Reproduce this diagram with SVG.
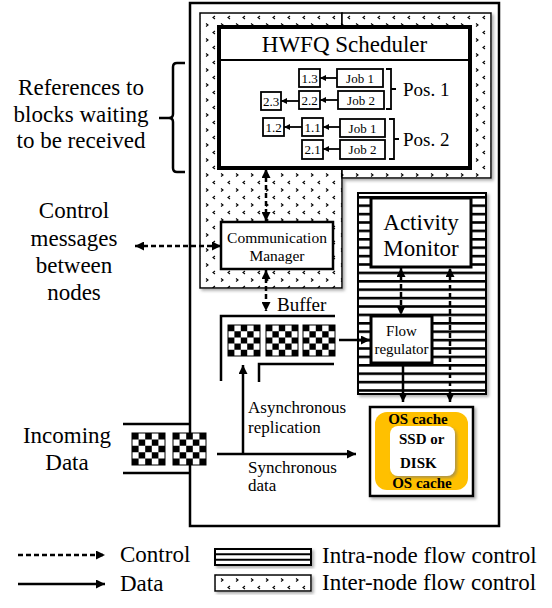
<svg xmlns="http://www.w3.org/2000/svg" width="552" height="608" viewBox="0 0 552 608" font-family="'Liberation Serif', 'Times New Roman', serif">
<style>
text{font-family:"Liberation Serif","Times New Roman",serif;fill:#000}
.big{font-size:23px}
.mid{font-size:17px}
.sm{font-size:13px}
.bold{font-weight:bold;font-size:15px}
.box{fill:#fff;stroke:#000}
.solid{stroke:#000;stroke-width:2.5;fill:none}
.dash{stroke:#000;stroke-width:2.5;fill:none;stroke-dasharray:5 3}
.thin{stroke:#000;stroke-width:1.8;fill:none}
.mid-t{text-anchor:middle}
.chk{stroke:#000;stroke-width:1}
</style>
<defs>
<pattern id="dots" patternUnits="userSpaceOnUse" x="0" y="0" width="15" height="15">
<rect width="15" height="15" fill="#fff"/>
<path d="M5,1 L3,2.5 L5,4 M11,8.5 L13,10 L11,11.5" stroke="#000" stroke-width="1.1" fill="none"/>
</pattern>
<pattern id="stripes" patternUnits="userSpaceOnUse" x="0" y="196" width="10" height="8.4">
<rect width="10" height="8.4" fill="#fff"/>
<rect y="0" width="10" height="2.6" fill="#000"/>
</pattern>
<symbol id="checker" viewBox="0 0 5 5" preserveAspectRatio="none">
<rect width="5" height="5" fill="#fff"/>
<path fill="#000" d="M0,0h1v1h-1z M2,0h1v1h-1z M4,0h1v1h-1z M1,1h1v1h-1z M3,1h1v1h-1z M0,2h1v1h-1z M2,2h1v1h-1z M4,2h1v1h-1z M1,3h1v1h-1z M3,3h1v1h-1z M0,4h1v1h-1z M2,4h1v1h-1z M4,4h1v1h-1z"/>
</symbol>
<filter id="sh" x="-10%" y="-10%" width="130%" height="130%">
<feDropShadow dx="2" dy="2" stdDeviation="1.5" flood-color="#777" flood-opacity="0.6"/>
</filter>
<marker id="ah" viewBox="0 0 10 10" refX="10" refY="5" markerWidth="10" markerHeight="9" markerUnits="userSpaceOnUse" orient="auto-start-reverse">
<path d="M0,0 L10,5 L0,10 z" fill="#000"/>
</marker>
<marker id="ahs" viewBox="0 0 10 10" refX="10" refY="5" markerWidth="6" markerHeight="6" markerUnits="userSpaceOnUse" orient="auto-start-reverse">
<path d="M0,0 L10,5 L0,10 z" fill="#000"/>
</marker>
</defs>

<rect width="552" height="608" fill="#fff"/>

<g id="node-frame">
<rect x="190" y="3" width="309" height="523" class="box" stroke-width="2.5"/>
</g>

<g id="inter-node-region" filter="url(#sh)">
<rect x="200" y="13" width="142" height="275" fill="url(#dots)" stroke="#000" stroke-width="1.5"/>
<rect x="342" y="13" width="149" height="165" fill="url(#dots)" stroke="#000" stroke-width="1.5"/>
</g>

<g id="hwfq-scheduler">
<rect x="219" y="27" width="251" height="141" class="box" stroke-width="4"/>
<line x1="219" y1="60" x2="470" y2="60" stroke="#000" stroke-width="2"/>
<text x="344.5" y="52" class="big mid-t">HWFQ Scheduler</text>
<g class="sm">
<rect x="299" y="69" width="21" height="18" class="box" stroke-width="1.8"/>
<text x="309.5" y="82.5" class="mid-t">1.3</text>
<rect x="337" y="69" width="46" height="18" class="box" stroke-width="1.8"/>
<text x="360" y="82.5" class="mid-t">Job 1</text>
<rect x="299" y="91" width="21" height="18" class="box" stroke-width="1.8"/>
<text x="309.5" y="104.5" class="mid-t">2.2</text>
<rect x="338" y="91" width="46" height="18" class="box" stroke-width="1.8"/>
<text x="361" y="104.5" class="mid-t">Job 2</text>
<rect x="261" y="92" width="20" height="18" class="box" stroke-width="1.8"/>
<text x="271" y="105.5" class="mid-t">2.3</text>
<rect x="263" y="118" width="21" height="18" class="box" stroke-width="1.8"/>
<text x="273.5" y="131.5" class="mid-t">1.2</text>
<rect x="302" y="118" width="21" height="18" class="box" stroke-width="1.8"/>
<text x="312.5" y="131.5" class="mid-t">1.1</text>
<rect x="340" y="119" width="45" height="18" class="box" stroke-width="1.8"/>
<text x="362.5" y="132.5" class="mid-t">Job 1</text>
<rect x="302" y="140" width="21" height="19" class="box" stroke-width="1.8"/>
<text x="312.5" y="154" class="mid-t">2.1</text>
<rect x="340" y="140" width="45" height="19" class="box" stroke-width="1.8"/>
<text x="362.5" y="154" class="mid-t">Job 2</text>
</g>
<g class="thin">
<line x1="337" y1="78" x2="320" y2="78" marker-end="url(#ahs)"/>
<line x1="338" y1="100" x2="320" y2="100" marker-end="url(#ahs)"/>
<line x1="299" y1="101" x2="281" y2="101" marker-end="url(#ahs)"/>
<line x1="340" y1="127" x2="323" y2="127" marker-end="url(#ahs)"/>
<line x1="302" y1="127" x2="284" y2="127" marker-end="url(#ahs)"/>
<line x1="340" y1="149" x2="323" y2="149" marker-end="url(#ahs)"/>
<path d="M386,69 h5 v40 h-5 M391,89 h5"/>
<path d="M389,119 h5 v40 h-5 M394,139 h5"/>
</g>
<text x="403" y="95.5" style="font-size:19px">Pos. 1</text>
<text x="403" y="145.5" style="font-size:19px">Pos. 2</text>
</g>

<g id="communication-manager">
<rect x="221" y="222" width="112" height="47" class="box" stroke-width="2.5"/>
<text x="277" y="243" class="mid-t" style="font-size:15.5px">Communication</text>
<text x="277" y="261" class="mid-t" style="font-size:15.5px">Manager</text>
</g>

<g id="intra-node-region">
<rect x="358" y="193" width="128" height="201" fill="url(#stripes)" stroke="#000" stroke-width="2" filter="url(#sh)"/>
</g>

<g id="activity-monitor">
<rect x="371" y="198" width="100" height="69" class="box" stroke-width="3"/>
<text x="421" y="230" class="big mid-t">Activity</text>
<text x="421" y="256" class="big mid-t">Monitor</text>
</g>

<g id="flow-regulator">
<rect x="371" y="316" width="61" height="47" class="box" stroke-width="3"/>
<text x="401.5" y="336" class="mid-t" style="font-size:15px">Flow</text>
<text x="401.5" y="354" class="mid-t" style="font-size:15px">regulator</text>
</g>

<g id="storage">
<rect x="370" y="407" width="103" height="89" class="box" stroke-width="2.5" filter="url(#sh)"/>
<rect x="375" y="412" width="93" height="78" rx="12" fill="#FFC000"/>
<rect x="390" y="426" width="65" height="50" rx="8" fill="#fff" filter="url(#sh)"/>
<text x="418" y="424" class="bold mid-t">OS cache</text>
<text x="399" y="444" class="bold">SSD or</text>
<text x="400" y="468" class="bold">DISK</text>
<text x="422" y="488" class="bold mid-t">OS cache</text>
</g>

<g id="buffer">
<path d="M221,381 V316 H335" class="solid"/>
<path d="M259,382 V364 H334" class="solid"/>
<use href="#checker" x="228" y="325" width="32" height="31"/>
<rect x="228" y="325" width="32" height="31" fill="none" class="chk"/>
<use href="#checker" x="266" y="325" width="32" height="31"/>
<rect x="266" y="325" width="32" height="31" fill="none" class="chk"/>
<use href="#checker" x="303" y="325" width="32" height="31"/>
<rect x="303" y="325" width="32" height="31" fill="none" class="chk"/>
<text x="277" y="311" style="font-size:19px">Buffer</text>
</g>

<g id="incoming-data">
<line x1="123" y1="424" x2="190" y2="424" class="solid"/>
<line x1="123" y1="473" x2="190" y2="473" class="solid"/>
<use href="#checker" x="132" y="433" width="33" height="32"/>
<rect x="132" y="433" width="33" height="32" fill="none" class="chk"/>
<use href="#checker" x="173" y="433" width="33" height="32"/>
<rect x="173" y="433" width="33" height="32" fill="none" class="chk"/>
<text x="67" y="443" class="big mid-t">Incoming</text>
<text x="67" y="470" class="big mid-t">Data</text>
</g>

<g id="references-label">
<path d="M185,63 H177 Q173,63 173,67 V114 Q173,118 169,118 H159 M169,118 Q173,118 173,122 V168 Q173,172 177,172 H185" class="solid"/>
<text x="81" y="95" class="big mid-t">References to</text>
<text x="81" y="121.5" class="big mid-t">blocks waiting</text>
<text x="81" y="148" class="big mid-t">to be received</text>
</g>

<g id="control-messages-label">
<text x="74" y="218" class="big mid-t">Control</text>
<text x="74" y="245.5" class="big mid-t">messages</text>
<text x="74" y="273" class="big mid-t">between</text>
<text x="74" y="300" class="big mid-t">nodes</text>
</g>

<g id="connectors">
<line x1="135" y1="246" x2="221" y2="246" class="dash" marker-start="url(#ah)" marker-end="url(#ah)"/>
<line x1="266" y1="169" x2="266" y2="221" class="dash" marker-start="url(#ah)" marker-end="url(#ah)"/>
<line x1="266" y1="270" x2="266" y2="311" class="dash" marker-start="url(#ah)" marker-end="url(#ah)"/>
<line x1="339" y1="340" x2="370" y2="340" class="solid" marker-end="url(#ah)"/>
<line x1="243" y1="455" x2="243" y2="365" class="solid" marker-end="url(#ah)"/>
<line x1="217" y1="454" x2="356" y2="454" class="solid" marker-end="url(#ah)"/>
<line x1="401" y1="268" x2="401" y2="315" class="dash" marker-start="url(#ah)" marker-end="url(#ah)"/>
<line x1="450" y1="402" x2="450" y2="268" class="dash" marker-start="url(#ah)" marker-end="url(#ah)"/>
<line x1="403" y1="363" x2="403" y2="402" class="solid" marker-end="url(#ah)"/>
<text x="248" y="413" class="mid">Asynchronous</text>
<text x="248" y="433" class="mid">replication</text>
<text x="248" y="473" class="mid">Synchronous</text>
<text x="248" y="491" class="mid">data</text>
</g>

<g id="legend">
<line x1="18" y1="555" x2="105" y2="555" class="dash" marker-end="url(#ah)"/>
<text x="120" y="562" class="big">Control</text>
<line x1="18" y1="584" x2="105" y2="584" class="solid" marker-end="url(#ah)"/>
<text x="120" y="591" class="big">Data</text>
<g filter="url(#sh)">
<rect x="215" y="549" width="96" height="16" fill="#fff" stroke="#000" stroke-width="2"/>
</g>
<line x1="215" y1="554.3" x2="311" y2="554.3" stroke="#000" stroke-width="2"/>
<line x1="215" y1="559.7" x2="311" y2="559.7" stroke="#000" stroke-width="2"/>
<text x="322" y="563" class="big">Intra-node flow control</text>
<rect x="215" y="575" width="96" height="16" fill="url(#dots)" stroke="#000" stroke-width="1.5" filter="url(#sh)"/>
<text x="322" y="590" class="big">Inter-node flow control</text>
</g>
</svg>
